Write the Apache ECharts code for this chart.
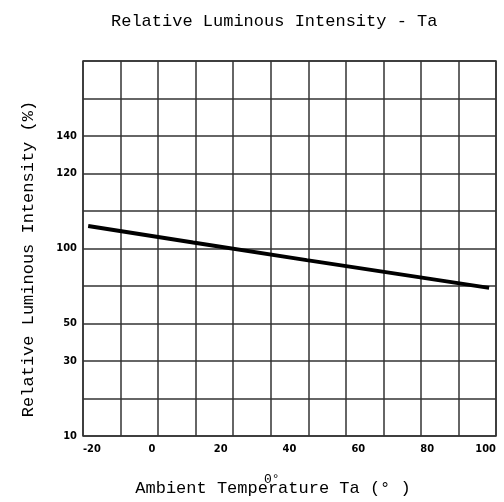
<!DOCTYPE html>
<html>
<head>
<meta charset="utf-8">
<script src="https://cdn.jsdelivr.net/npm/echarts@6/dist/echarts.min.js"></script>
<style>html,body{margin:0;padding:0;background:#fff;}#c{width:504px;height:502px;}</style>
</head>
<body>
<div id="c"></div>
<script>
// Data
var temperature = [-18.5, 12, 45, 78, 98];
// intensity expressed on the chart's grid rows (0 = bottom line, 10 = top line)
var intensityRow = [5.60, 5.16, 4.69, 4.23, 3.95];
// tick labels
var xTickValues = [-20, 0, 20, 40, 60, 80, 100];
var yTickLabels = ['10', '', '30', '50', '', '100', '', '120', '140', '', ''];
var gridColumns = 11;
var gridRows = 10;

var mono = 'Liberation Mono, DejaVu Sans Mono, monospace';
var tickFont = 'DejaVu Sans Condensed, DejaVu Sans, sans-serif';

var chart = echarts.init(document.getElementById('c'), null, {renderer: 'canvas'});
chart.setOption({
  animation: false,
  backgroundColor: '#fff',
  title: {
    text: 'Relative Luminous Intensity - Ta',
    left: 106, top: 8,
    textStyle: {fontFamily: mono, fontSize: 17, fontWeight: 'normal', color: '#000'}
  },
  grid: {
    left: 83, right: 8, top: 61, bottom: 64,
    show: true, borderColor: '#333', borderWidth: 1.5, backgroundColor: 'transparent'
  },
  xAxis: [{
    type: 'value', min: xTickValues[0], max: xTickValues[xTickValues.length - 1], interval: 20,
    axisLine: {show: false}, axisTick: {show: false}, splitLine: {show: false},
    axisLabel: {
      margin: 8, color: '#000', fontFamily: tickFont, fontWeight: 'bold', fontSize: 11,
      alignMinLabel: 'left', alignMaxLabel: 'right'
    },
    name: 'Ambient Temperature Ta (° )', nameLocation: 'middle', nameGap: 44,
    nameTextStyle: {fontFamily: mono, fontSize: 17, color: '#000', padding: [0, 33, 0, 0]}
  }, {
    type: 'value', min: 0, max: gridColumns, interval: 1, position: 'top',
    axisLine: {show: false}, axisTick: {show: false}, axisLabel: {show: false},
    splitLine: {show: true, lineStyle: {color: '#333', width: 1.5}}
  }],
  yAxis: [{
    type: 'value', min: 0, max: gridRows, interval: 1,
    axisLine: {show: false}, axisTick: {show: false},
    splitLine: {show: true, lineStyle: {color: '#333', width: 1.5}},
    axisLabel: {
      margin: 6, color: '#000', fontFamily: tickFont, fontWeight: 'bold', fontSize: 11,
      formatter: function (v) { return yTickLabels[Math.round(v)] || ''; }
    },
    name: 'Relative Luminous Intensity (%)', nameLocation: 'middle', nameGap: 46,
    nameTextStyle: {fontFamily: mono, fontSize: 17, color: '#000', padding: [0, 21, 0, 0]}
  }],
  graphic: [{
    type: 'text', left: 264, top: 473,
    style: {text: '0°', fontFamily: mono, fontSize: 13, fill: '#000'}
  }],
  series: [{
    type: 'line',
    xAxisIndex: 0, yAxisIndex: 0,
    data: temperature.map(function (t, i) { return [t, intensityRow[i]]; }),
    showSymbol: false,
    lineStyle: {color: '#000', width: 4},
    silent: true
  }]
});
</script>
</body>
</html>
